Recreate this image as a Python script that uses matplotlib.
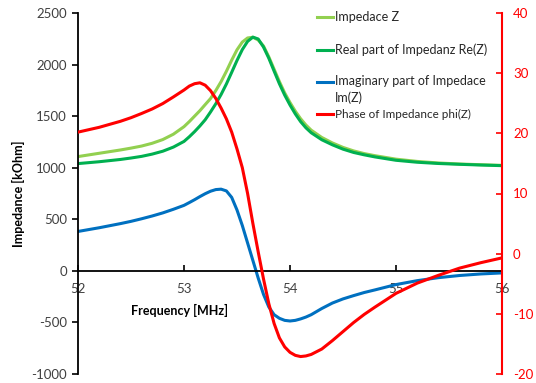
import matplotlib
matplotlib.use('Agg')
import matplotlib.pyplot as plt
from matplotlib.lines import Line2D

plt.rcParams['font.family'] = ['Lato', 'DejaVu Sans']
plt.rcParams['axes.unicode_minus'] = False

# sweep frequencies [MHz], denser around the resonance
freq = [52.0, 52.2, 52.4, 52.5, 52.6, 52.7, 52.8, 52.9, 53.0, 53.05,
        53.1, 53.15, 53.2, 53.25, 53.3, 53.35, 53.4, 53.45, 53.5, 53.55,
        53.6, 53.65, 53.7, 53.75, 53.8, 53.85, 53.9, 53.95, 54.0, 54.05,
        54.1, 54.15, 54.2, 54.3, 54.4, 54.5, 54.6, 54.7, 54.8, 55.0,
        55.2, 55.4, 55.6, 55.8, 56.0]

# |Z| [kOhm]
z_abs = [1108, 1140, 1172, 1190, 1210, 1237, 1273, 1325, 1398, 1447,
         1500, 1553, 1612, 1670, 1748, 1835, 1935, 2043, 2143, 2218,
         2258, 2265, 2238, 2180, 2075, 1955, 1835, 1725, 1632, 1548,
         1475, 1414, 1364, 1293, 1240, 1197, 1163, 1137, 1117, 1083,
         1061, 1046, 1036, 1029, 1023]

# Re(Z) [kOhm]
z_re = [1040, 1058, 1080, 1094, 1110, 1132, 1160, 1200, 1255, 1300,
        1350, 1405, 1465, 1540, 1620, 1710, 1812, 1925, 2040, 2145,
        2225, 2266, 2248, 2170, 2062, 1937, 1814, 1704, 1608, 1522,
        1447, 1387, 1339, 1271, 1222, 1180, 1148, 1125, 1105, 1072,
        1053, 1041, 1033, 1026, 1020]

# Im(Z) [kOhm]
z_im = [382, 418, 458, 480, 505, 532, 562, 597, 635, 662,
        690, 720, 748, 772, 788, 792, 775, 712, 590, 440,
        270, 100, -70, -228, -350, -425, -460, -480, -486, -480,
        -466, -448, -425, -365, -312, -272, -240, -210, -185, -133,
        -95, -66, -45, -30, -20]

# phase [deg]
phase = [20.2, 21.0, 22.0, 22.6, 23.3, 24.05, 24.95, 26.05, 27.2, 27.85,
         28.25, 28.4, 28.0, 27.1, 25.8, 24.2, 22.4, 20.2, 17.4, 14.3,
         10.0, 5.0, 0.3, -4.2, -8.3, -11.6, -14.0, -15.5, -16.4, -16.9,
         -17.1, -17.0, -16.75, -15.85, -14.45, -12.95, -11.45, -10.1, -8.9, -6.6,
         -4.9, -3.6, -2.4, -1.5, -0.7]

labels = ['Impedace Z', 'Real part of Impedanz Re(Z)',
          'Imaginary part of Impedace\nIm(Z)', 'Phase of Impedance phi(Z)']
colors = ['#92D050', '#00B050', '#0070C0', '#FF0000']

fig = plt.figure(figsize=(5.36, 3.83), dpi=100)
ax = fig.add_axes([78 / 536, 1 - 374 / 383, 424 / 536, 361 / 383])
ax2 = ax.twinx()

lw = 2.2
ax.plot(freq, z_abs, color=colors[0], lw=lw, solid_joinstyle='round')
ax.plot(freq, z_re, color=colors[1], lw=lw, solid_joinstyle='round')
ax.plot(freq, z_im, color=colors[2], lw=lw, solid_joinstyle='round')
ax2.plot(freq, phase, color=colors[3], lw=lw, solid_joinstyle='round')

ax.set_xlim(52, 56)
ax.set_ylim(-1000, 2500)
ax2.set_ylim(-20, 40)
ax.set_xticks([52, 53, 54, 55, 56])
ax.set_yticks(range(-1000, 2501, 500))
ax2.set_yticks(range(-20, 41, 10))

for s in ['top', 'right']:
    ax.spines[s].set_visible(False)
for s in ['top', 'left', 'bottom']:
    ax2.spines[s].set_visible(False)
ax.spines['bottom'].set_position(('data', 0))
ax.spines['left'].set_linewidth(1.3)
ax.spines['bottom'].set_linewidth(1.3)
ax2.spines['right'].set_color('#FF0000')
ax2.spines['right'].set_linewidth(1.5)

tick_col = '#404040'
ax.tick_params(axis='x', direction='in', length=4, width=1.2, pad=9,
               labelsize=9.5, labelcolor=tick_col)
ax.tick_params(axis='y', direction='out', length=4, width=1.2, pad=4,
               labelsize=9.5, labelcolor=tick_col)
ax2.tick_params(axis='y', direction='in', length=4, width=1.2, pad=8,
                color='#FF0000', labelcolor='#FF0000', labelsize=9.5)

ax.text(0.24, 0.175, 'Frequency [MHz]', transform=ax.transAxes,
        ha='center', va='center', fontsize=9, fontweight='bold')
ax.set_ylabel('Impedance [kOhm]', fontsize=9, fontweight='bold')
ax.yaxis.set_label_coords(-0.125, 0.5)

# legend: short line + text, placed by pixel row
ys = [16.7, 50, 82, 114]
sizes = [9, 9, 9, 8.4]
for lab, col, y, fs in zip(labels, colors, ys, sizes):
    yf = 1 - y / 383
    fig.add_artist(Line2D([317 / 536, 333 / 536], [yf, yf], color=col,
                          lw=2.2, transform=fig.transFigure))
    if '\n' in lab:
        fig.text(335 / 536, yf + 7 / 383, lab, ha='left', va='top',
                 fontsize=fs, color='#262626', linespacing=1.45)
    else:
        fig.text(335 / 536, yf, lab, ha='left', va='center',
                 fontsize=fs, color='#262626')

fig.savefig('out.png', dpi=100, facecolor='white')
